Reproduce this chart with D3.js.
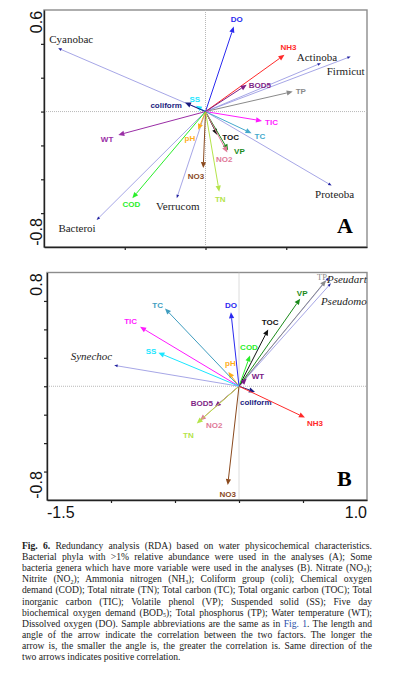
<!DOCTYPE html>
<html>
<head>
<meta charset="utf-8">
<script src="https://cdn.jsdelivr.net/npm/d3@7"></script>
<style>
  body { margin: 0; background: #fff; }
  svg { display: block; }
</style>
</head>
<body>
<div class="chart"></div>
<script>
// ---- data ----
// panel A, environmental variables
const envA_names = ["DO","NH3","BOD5","TP","TIC","TC","TOC","VP","NO2","NO3","TN","pH","SS","coliform","WT","COD"];
const envA_x = [0.175, 0.489, 0.255, 0.540, 0.350, 0.285, 0.073, 0.140, 0.135, -0.014, 0.085, -0.045, -0.060, -0.127, -0.540, -0.453];
const envA_y = [0.502, 0.335, 0.158, 0.118, -0.055, -0.128, -0.138, -0.228, -0.242, -0.334, -0.473, -0.108, 0.034, 0.053, -0.138, -0.512];
// panel A, phyla
const spA_names = ["Cyanobac","Actinoba","Firmicut","Proteoba","Verrucom","Bacteroi"];
const spA_x = [-0.912, 0.715, 0.899, 0.781, -0.178, -0.674];
const spA_y = [0.374, 0.286, 0.325, -0.437, -0.512, -0.640];
// panel B, environmental variables
const envB_names = ["TP","VP","TOC","COD","DO","pH","WT","coliform","NH3","BOD5","NO2","TN","NO3","TC","TIC","SS"];
const envB_x = [0.680, 0.478, 0.228, 0.086, -0.063, -0.083, 0.060, 0.125, 0.515, -0.188, -0.305, -0.330, -0.088, -0.578, -0.773, -0.630];
const envB_y = [0.745, 0.616, 0.400, 0.216, 0.520, 0.100, 0.054, -0.040, -0.220, -0.145, -0.240, -0.262, -0.695, 0.547, 0.418, 0.236];
// panel B, genera
const spB_names = ["Pseudart","Pseudomo","Synechoc"];
const spB_x = [0.703, 0.718, -0.975];
const spB_y = [0.766, 0.724, 0.147];

// axis tick labels
const yTicksA = ["0.6", "-0.8"];
const yTicksB = ["0.8", "-0.8"];
const xTicksB = ["-1.5", "1.0"];

// ---- styling ----
const colors = {
  DO: "#2a2af0", NH3: "#ff2a2a", BOD5: "#7f1f86", TP: "#8a8a8a", TIC: "#ff1aff",
  TC: "#45a9cc", TOC: "#111111", VP: "#1a8a1a", NO2: "#e07a98", NO3: "#8b4a1e",
  TN: "#b4e44a", pH: "#ffae1a", SS: "#1ae6ff", coliform: "#1c1c80", WT: "#9a2ea6",
  COD: "#2aee2a"
};
const colorsB = Object.assign({}, colors, { WT: "#7a1a86", TC: "#3f9dbf" });
const spLine = "#8f8fe0", spHead = "#2020a0";

// label placement relative to arrow tip: [dx, dy, anchor]
const labA = {
  DO:[3,-5,"middle"], NH3:[4,-5,"middle"], BOD5:[2,3,"start"], TP:[3,2,"start"],
  TIC:[3,4,"start"], TC:[3,6,"start"], TOC:[5,5,"start"], VP:[6,4,"start"],
  NO2:[-3,9,"middle"], NO3:[1,11,"end"], TN:[1,10,"middle"], pH:[-3,11,"end"],
  SS:[-1,-4,"middle"], coliform:[-3,5,"end"], WT:[-5,7,"end"], COD:[-1,9,"middle"],
  Cyanobac:[-9,-5,"start"], Actinoba:[-4,-2,"middle"], Firmicut:[-5,18,"middle"],
  Proteoba:[3,12,"middle"], Verrucom:[1,12,"middle"], Bacteroi:[-1,12,"end"]
};
const labB = {
  TP:[1,0,"end"], VP:[2,-3,"middle"], TOC:[2,-4,"middle"], COD:[-1,-6,"middle"],
  DO:[0,-4,"middle"], pH:[2,-6,"middle"], WT:[5,0,"start"], coliform:[-15,13,"start"],
  NH3:[2,8,"start"], BOD5:[-2,-1,"end"], NO2:[6,8,"start"], TN:[-3,14,"end"],
  NO3:[0,12,"middle"], TC:[-2,0,"end"], TIC:[-3,-3,"end"], SS:[-2,1,"end"],
  Pseudart:[-2,6,"start"], Pseudomo:[-10,22,"start"], Synechoc:[-2,-5,"end"]
};

const width = 394, height = 687;

const svg = d3.select(".chart").append("svg")
  .attr("width", width).attr("height", height)
  .attr("viewBox", `0 0 ${width} ${height}`);
svg.append("rect").attr("width", width).attr("height", height).attr("fill", "#fff");

function panel(opt) {
  const x = d3.scaleLinear().domain(opt.xd).range(opt.xr);
  const y = d3.scaleLinear().domain(opt.yd).range(opt.yr);
  const g = svg.append("g");
  const x0 = x(0), y0 = y(0);

  // frame
  g.append("rect")
    .attr("x", opt.xr[0]).attr("y", opt.yr[1])
    .attr("width", opt.xr[1] - opt.xr[0]).attr("height", opt.yr[0] - opt.yr[1])
    .attr("fill", "none").attr("stroke", "#8c8c8c").attr("stroke-width", 1.4);

  // zero lines
  g.append("line").attr("x1", opt.xr[0]).attr("x2", opt.xr[1]).attr("y1", y0).attr("y2", y0)
    .attr("stroke", "#b8b8b8").attr("stroke-dasharray", "1,1");
  g.append("line").attr("x1", x0).attr("x2", x0).attr("y1", opt.yr[1]).attr("y2", opt.yr[0])
    .attr("stroke", "#b8b8b8").attr("stroke-dasharray", "1,1");

  // axes
  const ya = g.append("g").attr("transform", `translate(${opt.xr[0]},0)`)
    .call(d3.axisLeft(y).tickValues(opt.yt).tickFormat("").tickSize(3).tickSizeOuter(0));
  const xa = g.append("g").attr("transform", `translate(0,${opt.yr[0]})`)
    .call(d3.axisBottom(x).tickValues(opt.xt).tickFormat("").tickSize(3).tickSizeOuter(0));
  [ya, xa].forEach(a => {
    a.select(".domain").attr("stroke", "#222").attr("stroke-width", 1.4);
    a.selectAll(".tick line").attr("stroke", "#222").attr("stroke-width", 1.2);
  });

  // y end labels (rotated)
  opt.ylab.forEach((t, i) => {
    const v = opt.yd[1 - i];
    const cy = i === 0 ? y(v) + opt.ylabOff[0] : y(v) - opt.ylabOff[1];
    g.append("text")
      .attr("transform", `translate(42,${cy}) rotate(-90)`)
      .attr("text-anchor", "middle")
      .attr("font-family", "Liberation Sans, Arial, sans-serif")
      .attr("font-size", 16).attr("fill", "#111")
      .text(t);
  });

  function arrow(px, py, col, L, w, lw, lineCol) {
    const a = Math.atan2(py - y0, px - x0);
    const bx = px - L * Math.cos(a), by = py - L * Math.sin(a);
    g.append("line").attr("x1", x0).attr("y1", y0).attr("x2", bx).attr("y2", by)
      .attr("stroke", lineCol || col).attr("stroke-width", lw);
    const p = [[px, py],
      [bx - w * Math.sin(a), by + w * Math.cos(a)],
      [bx + w * Math.sin(a), by - w * Math.cos(a)]];
    g.append("path").attr("d", "M" + p.join("L") + "Z").attr("fill", col);
  }

  // species arrows
  opt.sp.names.forEach((n, i) => {
    const px = x(opt.sp.x[i]), py = y(opt.sp.y[i]);
    arrow(px, py, spHead, 3.5, 1.4, 0.8, spLine);
    const l = opt.lab[n];
    g.append("text").attr("x", px + l[0]).attr("y", py + l[1])
      .attr("text-anchor", l[2])
      .attr("font-family", "Liberation Serif, Times New Roman, serif")
      .attr("font-style", opt.italic ? "italic" : "normal")
      .attr("font-size", 11).attr("fill", "#222").text(n);
  });

  // environmental arrows
  opt.env.names.forEach((n, i) => {
    const px = x(opt.env.x[i]), py = y(opt.env.y[i]);
    const c = opt.colors[n];
    arrow(px, py, c, 6, 2.6, 1);
    const l = opt.lab[n];
    const serifTP = opt.italic && n === "TP";
    g.append("text").attr("x", px + l[0]).attr("y", py + l[1])
      .attr("text-anchor", l[2])
      .attr("font-family", serifTP ? "Liberation Serif, serif" : "Liberation Sans, Arial, sans-serif")
      .attr("font-weight", serifTP ? "normal" : "bold")
      .attr("font-size", serifTP ? 8.5 : 8).attr("fill", c).text(n);
  });

  // panel letter
  g.append("text").attr("x", opt.xr[1] - 30).attr("y", opt.yr[0] - 14)
    .attr("font-family", "Liberation Serif, Times New Roman, serif")
    .attr("font-weight", "bold").attr("font-size", 22).attr("fill", "#000")
    .text(opt.letter);

  return { x, y, g };
}

panel({
  xd: [-1, 1], xr: [44, 367], yd: [-0.8, 0.6], yr: [247, 10],
  xt: [-0.5, 0, 0.5], yt: [-0.6, -0.4, -0.2, 0, 0.2, 0.4],
  ylab: yTicksA, ylabOff: [12, 15],
  env: { names: envA_names, x: envA_x, y: envA_y },
  sp: { names: spA_names, x: spA_x, y: spA_y },
  lab: labA, colors: colors, italic: false, letter: "A"
});

const pB = panel({
  xd: [-1.5, 1.0], xr: [47, 367], yd: [-0.8, 0.8], yr: [500, 272.5],
  xt: [-1.0, -0.5, 0, 0.5], yt: [-0.6, -0.4, -0.2, 0, 0.2, 0.4, 0.6],
  ylab: yTicksB, ylabOff: [12, 15],
  env: { names: envB_names, x: envB_x, y: envB_y },
  sp: { names: spB_names, x: spB_x, y: spB_y },
  lab: labB, colors: colorsB, italic: true, letter: "B"
});

// x end labels of panel B
pB.g.append("text").attr("x", pB.x(-1.5)).attr("y", 518)
  .attr("font-family", "Liberation Sans, Arial, sans-serif").attr("font-size", 16)
  .attr("fill", "#111").text(xTicksB[0]);
pB.g.append("text").attr("x", pB.x(1.0)).attr("y", 518).attr("text-anchor", "end")
  .attr("font-family", "Liberation Sans, Arial, sans-serif").attr("font-size", 16)
  .attr("fill", "#111").text(xTicksB[1]);

// ---- caption ----
const caption = [
  [["Fig. 6.", "b"], [" Redundancy analysis (RDA) based on water physicochemical characteristics."]],
  [["Bacterial phyla with >1% relative abundance were used in the analyses (A); Some"]],
  [["bacteria genera which have more variable were used in the analyses (B). Nitrate (NO"], ["3", "sub"], [");"]],
  [["Nitrite (NO"], ["2", "sub"], ["); Ammonia nitrogen (NH"], ["3", "sub"], ["); Coliform group (coli); Chemical oxygen"]],
  [["demand (COD); Total nitrate (TN); Total carbon (TC); Total organic carbon (TOC); Total"]],
  [["inorganic carbon (TIC); Volatile phenol (VP); Suspended solid (SS); Five day"]],
  [["biochemical oxygen demand (BOD"], ["5", "sub"], ["); Total phosphorus (TP); Water temperature (WT);"]],
  [["Dissolved oxygen (DO). Sample abbreviations are the same as in "], ["Fig. 1", "link"], [". The length and"]],
  [["angle of the arrow indicate the correlation between the two factors. The longer the"]],
  [["arrow is, the smaller the angle is, the greater the correlation is. Same direction of the"]],
  [["two arrows indicates positive correlation."]]
];

const capX = 22, capW = 350, capY = 549, capLH = 11.1;
caption.forEach((line, i) => {
  const t = svg.append("text").attr("x", capX).attr("y", capY + i * capLH)
    .attr("font-family", "Liberation Serif, Times New Roman, serif")
    .attr("font-size", 9.6).attr("fill", "#1a1a1a");
  let shifted = false;
  line.forEach(seg => {
    const s = t.append("tspan").text(seg[0]);
    if (seg[1] === "b") s.attr("font-weight", "bold");
    if (seg[1] === "link") s.attr("fill", "#2a4fa8");
    if (seg[1] === "sub") { s.attr("font-size", 6).attr("dy", 1.2); shifted = true; }
    else if (shifted) { s.attr("dy", -1.2); shifted = false; }
  });
  if (i < caption.length - 1) {
    const nat = t.node().getComputedTextLength();
    const spaces = line.map(s => s[0]).join("").split(" ").length - 1;
    if (spaces > 0) t.attr("word-spacing", (capW - nat) / spaces);
  }
});
</script>
</body>
</html>
